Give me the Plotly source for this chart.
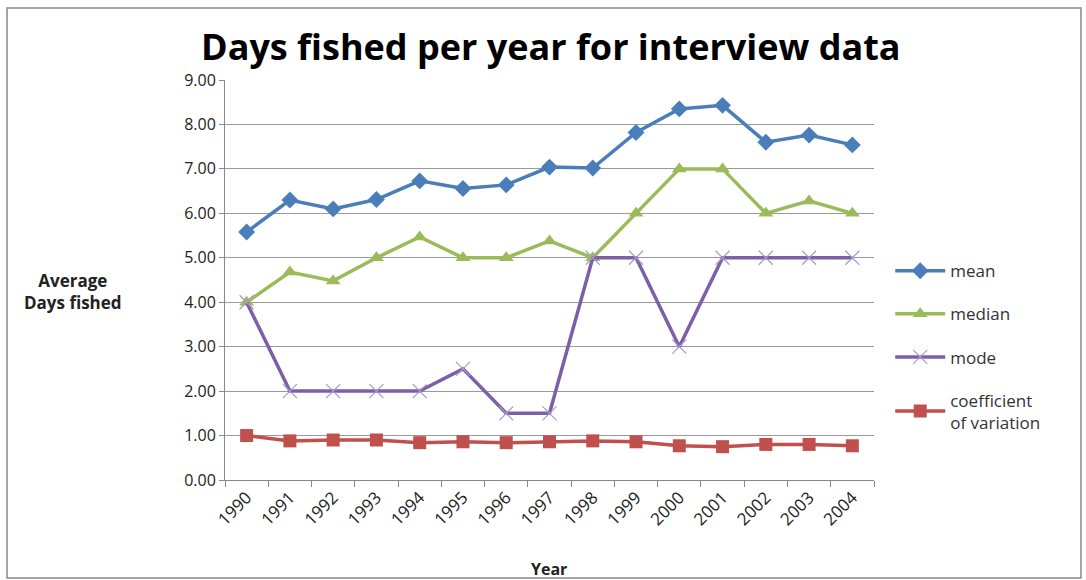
import plotly.graph_objects as go

years = [str(y) for y in range(1990, 2005)]
mean = [5.58, 6.30, 6.10, 6.31, 6.73, 6.56, 6.64, 7.04, 7.02, 7.82, 8.35, 8.43, 7.60, 7.76, 7.54]
median = [4.00, 4.68, 4.48, 5.00, 5.47, 5.00, 5.00, 5.38, 5.00, 6.00, 7.00, 7.00, 6.00, 6.28, 6.00]
mode = [4.0, 2.0, 2.0, 2.0, 2.0, 2.5, 1.5, 1.5, 5.0, 5.0, 3.0, 5.0, 5.0, 5.0, 5.0]
cv = [1.00, 0.88, 0.90, 0.90, 0.84, 0.86, 0.84, 0.86, 0.88, 0.86, 0.77, 0.75, 0.80, 0.80, 0.77]
yticks = [0, 1, 2, 3, 4, 5, 6, 7, 8, 9]

FONT = "Open Sans"

fig = go.Figure()
fig.add_trace(go.Scatter(x=years, y=mean, name="mean", mode="lines+markers", legendgroup="a",
                         line=dict(color="#4A7EBB", width=3.5),
                         marker=dict(symbol="diamond", size=13, color="#4A7EBB")))
fig.add_trace(go.Scatter(x=years, y=median, name="median", mode="lines+markers", legendgroup="b",
                         line=dict(color="#9BBB59", width=3.5),
                         marker=dict(symbol="triangle-up", size=13, color="#9BBB59")))
fig.add_trace(go.Scatter(x=years, y=mode, name="mode", mode="lines+markers", legendgroup="c",
                         line=dict(color="#7D5FA8", width=3.5),
                         marker=dict(symbol="x-thin", size=14, line=dict(color="#A898C8", width=1.2))))
fig.add_trace(go.Scatter(x=years, y=cv, name="coefficient<br>of variation", mode="lines+markers", legendgroup="d",
                         line=dict(color="#C0504D", width=3.5),
                         marker=dict(symbol="square", size=13, color="#C0504D")))

fig.update_layout(
    width=1086, height=580,
    margin=dict(l=225, r=212, t=80, b=100),
    paper_bgcolor="white", plot_bgcolor="white",
    font=dict(family=FONT, color="#222"),
    showlegend=True,
    legend=dict(x=1.025, y=0.567, xanchor="left", yanchor="top", font=dict(size=17, color="#333"),
                tracegroupgap=18, itemwidth=50),
    xaxis=dict(type="category", range=[-0.5, 14.5], tickson="boundaries", ticks="outside", ticklen=6,
               tickcolor="#888", showline=True, linecolor="#888", linewidth=1, automargin=False,
               tickangle=-45, tickfont=dict(size=17, color="#222"), showgrid=False),
    yaxis=dict(range=[0, 9], tickvals=yticks, tickformat=".2f", ticks="outside", ticklen=5,
               tickcolor="#888", showline=True, linecolor="#888", showgrid=True, gridcolor="#999",
               gridwidth=1, tickfont=dict(size=16, color="#222"), zeroline=False, automargin=False),
    annotations=[
        dict(text="<b>Days fished per year for interview data</b>", x=551, y=47,
             xanchor="center", yanchor="middle",
             showarrow=False, font=dict(size=36, color="#000")),
        dict(text="<b>Average<br>Days fished</b>", x=73, y=291, xanchor="center", yanchor="middle",
             showarrow=False, font=dict(size=17, color="#222")),
        dict(text="<b>Year</b>", x=549, y=569, xanchor="center", yanchor="middle",
             showarrow=False, font=dict(size=16, color="#222")),
    ],
)
W, H = 1086, 580
l, r, t, b = 225, 212, 80, 100
pw, ph = W - l - r, H - t - b
def px(x, y):
    return (x - l) / pw, (H - b - y) / ph
anns = list(fig.layout.annotations)
for a in anns:
    X, Y = px(a.x, a.y)
    a.x, a.y, a.xref, a.yref = X, Y, "paper", "paper"
fig.layout.annotations = anns
x0, y0 = px(7, 578)
x1, y1 = px(1081, 8)
fig.add_shape(type="rect", xref="paper", yref="paper", x0=x0, y0=y0, x1=x1, y1=y1,
              line=dict(color="#888", width=1.5))
fig.write_html("out.html")
